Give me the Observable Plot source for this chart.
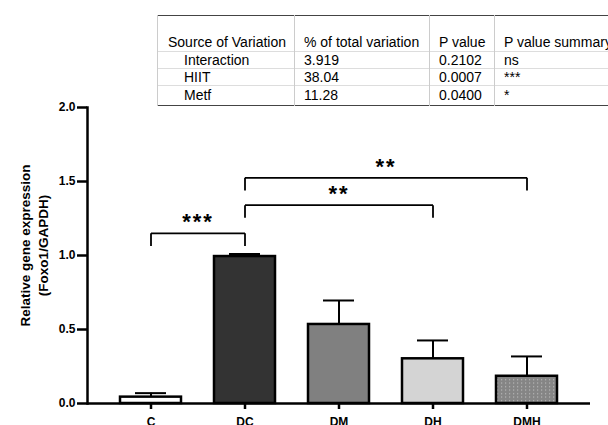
<!DOCTYPE html>
<html>
<head>
<meta charset="utf-8">
<script src="https://cdn.jsdelivr.net/npm/d3@7"></script>
<script src="https://cdn.jsdelivr.net/npm/@observablehq/plot@0.6"></script>
<style>
  html, body { margin: 0; padding: 0; background: #fff; }
  #wrap { position: relative; width: 608px; height: 425px; overflow: hidden; font-family: "Liberation Sans", Arial, sans-serif; }
  #wrap svg { position: absolute; left: 0; top: 0; }
  #anova { position: absolute; left: 157px; top: 15px; border-collapse: collapse; table-layout: fixed; width: 470px; font-size: 14px; color: #000; border: 1px solid #444; z-index: 2; background: #fff; }
  #anova td { padding: 0 0 0 9px; border-left: 1px solid #ccc; border-top: 1px solid #ddd; white-space: nowrap; overflow: hidden; line-height: 15px; }
  #anova tr.head td { height: 34px; vertical-align: bottom; padding-bottom: 1px; border-top: none; }
  #anova tr.row td { height: 16px; }
  #anova tr.last td { height: 19px; }
  #anova td.src { padding-left: 26px; }
  #anova td.src0 { padding-left: 10px; }
</style>
</head>
<body>
<div id="wrap"></div>
<script>
// ---- data ----
const groups = ["C", "DC", "DM", "DH", "DMH"];
const means = [0.043, 0.993, 0.534, 0.302, 0.184];
const sems = [0.027, 0.017, 0.162, 0.124, 0.134];

const brackets = [
  {from: "C", to: "DC", y: 1.15, label: "***"},
  {from: "DC", to: "DH", y: 1.34, label: "**"},
  {from: "DC", to: "DMH", y: 1.525, label: "**"}
];

const anovaHeader = ["Source of Variation", "% of total variation", "P value", "P value summary"];
const sources = ["Interaction", "HIIT", "Metf"];
const pctVariation = ["3.919", "38.04", "11.28"];
const pValues = ["0.2102", "0.0007", "0.0400"];
const pSummary = ["ns", "***", "*"];

const yTicks = [0, 0.5, 1, 1.5, 2];
const yLabelLines = ["Relative gene expression", "(Foxo1/GAPDH)"];

// ---- build ----
const data = groups.map((g, i) => ({group: g, mean: means[i], sem: sems[i]}));
const legDrop = 0.085;
const font = "Liberation Sans, Arial, sans-serif";
const W = 608, H = 425, mL = 87, mR = 18, mT = 107, mB = 22;
const xOpts = {type: "band", domain: groups, padding: 0.35};

// standalone copy of the x scale, used to centre the star labels between two bars
const xs = Plot.scale({x: {...xOpts, range: [mL, W - mR]}});
const xc = g => xs.apply(g) + xs.bandwidth / 2;

const plot = Plot.plot({
  width: W,
  height: H,
  marginLeft: mL,
  marginRight: mR,
  marginTop: mT,
  marginBottom: mB,
  style: {fontFamily: font, background: "transparent", overflow: "visible"},
  x: {...xOpts, label: null},
  y: {domain: [0, 2], label: null},
  color: {domain: groups, range: ["#ffffff", "#333333", "#808080", "#d4d4d4", "url(#dmhDots)"]},
  marks: [
    Plot.barY(data, {x: "group", y: "mean", fill: "group", stroke: "#000", strokeWidth: 2.5}),
    Plot.ruleX(data, {x: "group", y1: "mean", y2: d => d.mean + d.sem, stroke: "#000", strokeWidth: 2}),
    Plot.tickY(data, {x: "group", y: d => d.mean + d.sem, stroke: "#000", strokeWidth: 2, insetLeft: 15, insetRight: 15}),
    Plot.link(brackets, {x1: "from", x2: "to", y1: "y", y2: "y", stroke: "#000", strokeWidth: 1.8}),
    Plot.link(brackets, {x1: "from", x2: "from", y1: "y", y2: d => d.y - legDrop, stroke: "#000", strokeWidth: 1.8}),
    Plot.link(brackets, {x1: "to", x2: "to", y1: "y", y2: d => d.y - legDrop, stroke: "#000", strokeWidth: 1.8}),
    ...brackets.map(b => Plot.text([b], {
      frameAnchor: "left", textAnchor: "middle", y: "y", text: "label",
      dx: (xc(b.from) + xc(b.to)) / 2 - mL, dy: -4, lineAnchor: "bottom",
      fontSize: 22, fontWeight: "bold", fill: "#000"
    })),
    Plot.ruleY([0], {stroke: "#000", strokeWidth: 2.5}),
    Plot.frame({anchor: "left", stroke: "#000", strokeWidth: 2.5}),
    Plot.axisY({ticks: yTicks, tickFormat: d3.format(".1f"), tickSize: 10, tickPadding: 2, fontSize: 12, fontWeight: "bold", strokeWidth: 2.5, label: null}),
    Plot.axisX({tickSize: 6, tickPadding: 8, fontSize: 12, fontWeight: "bold", strokeWidth: 2.5, label: null}),
    Plot.text([yLabelLines[0]], {frameAnchor: "left", textAnchor: "middle", rotate: -90, dx: -62, dy: -10, fontSize: 13.5, fontWeight: "bold", fill: "#000"}),
    Plot.text([yLabelLines[1]], {frameAnchor: "left", textAnchor: "middle", rotate: -90, dx: -44, dy: -10, fontSize: 13.5, fontWeight: "bold", fill: "#000"})
  ]
});

document.getElementById("wrap").appendChild(plot);

// letter spacing for the significance stars
d3.select(plot).selectAll("text").filter(function() { return /^\*+$/.test(this.textContent); }).style("letter-spacing", "2px");

// pattern for DMH bar
d3.select(plot).insert("defs", ":first-child").html(
  '<pattern id="dmhDots" patternUnits="userSpaceOnUse" width="4" height="3.5">' +
  '<rect width="4" height="3.5" fill="#858585"></rect>' +
  '<rect x="1" y="1" width="1.2" height="1.2" fill="#b8b8b8"></rect>' +
  '</pattern>'
);

// ANOVA table
const table = document.createElement("table");
table.id = "anova";
const colW = [126, 125, 55, 124];
const head = table.insertRow();
head.className = "head";
anovaHeader.forEach((h, j) => {
  const c = head.insertCell();
  c.textContent = h;
  c.style.width = colW[j] + "px";
  if (j === 0) c.className = "src0";
});
sources.forEach((s, i) => {
  const r = table.insertRow();
  r.className = i === sources.length - 1 ? "row last" : "row";
  [s, pctVariation[i], pValues[i], pSummary[i]].forEach((v, j) => {
    const c = r.insertCell();
    c.textContent = v;
    if (j === 0) c.className = "src";
  });
});
document.getElementById("wrap").appendChild(table);
</script>
</body>
</html>
